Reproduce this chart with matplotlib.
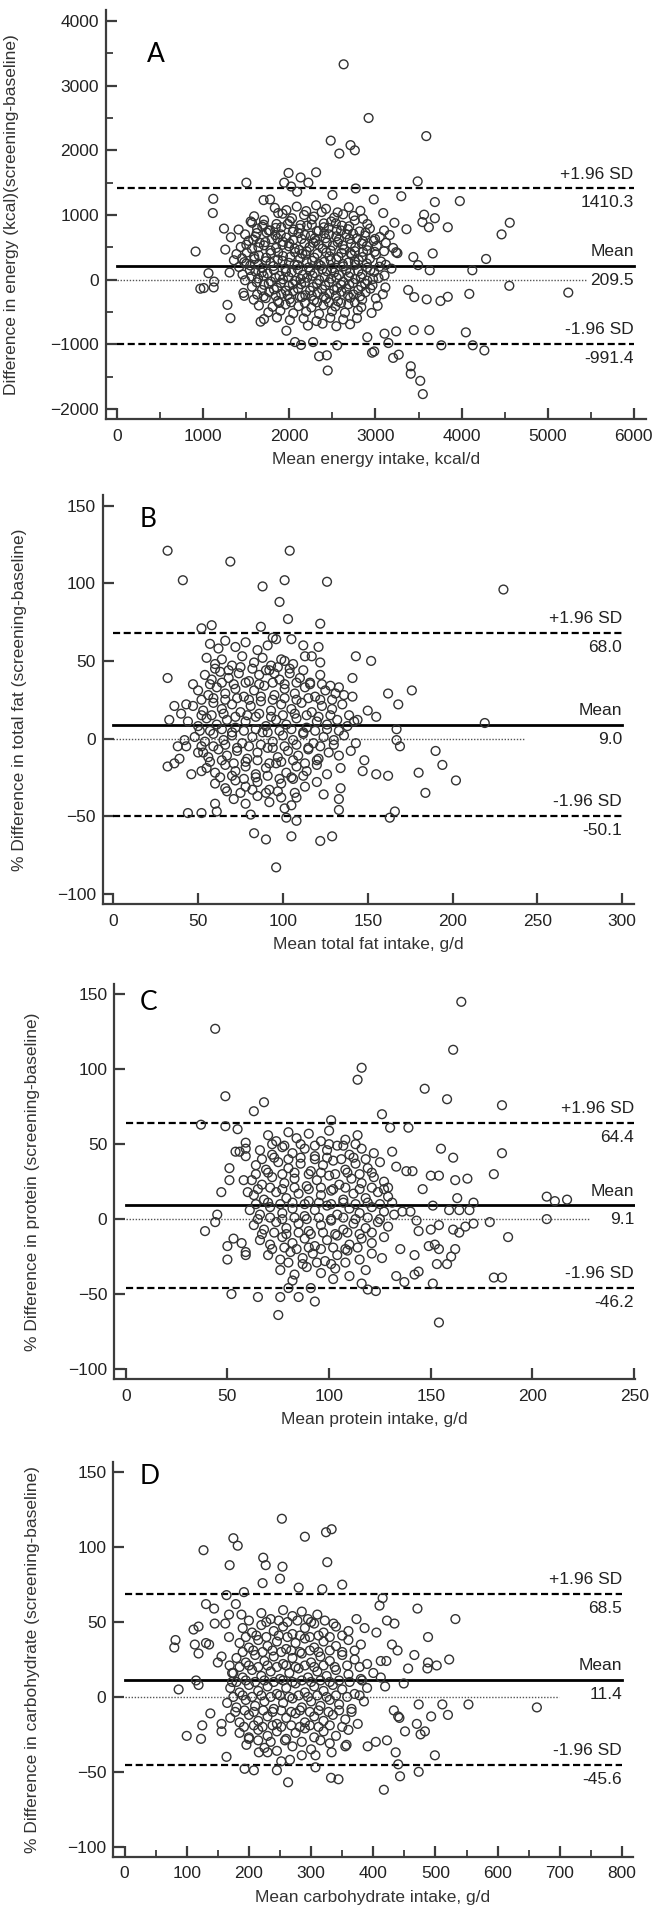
import matplotlib
matplotlib.use("Agg")
import matplotlib.pyplot as plt
from matplotlib.ticker import MultipleLocator

plt.rcParams['font.family'] = ['Liberation Sans', 'DejaVu Sans']

# ---------------- Panel A: energy ----------------
a_xlabel = "Mean energy intake, kcal/d"
a_ylabel = "Difference in energy (kcal)(screening-baseline)"
a_mean, a_upper, a_lower = 209.5, 1410.3, -991.4
a_outer = [(2630,3330),(2920,2500),(3590,2220),(2480,2150),(2710,2080),(2760,2000),(2580,1950),
    (1990,1650),(2310,1660),(2130,1580),(1500,1500),(1940,1500),(2220,1500),(3490,1520),(2020,1440),(2770,1410),
    (1115,1250),(1775,1240),(2090,1360),(2500,1310),(2980,1240),(3300,1290),(3690,1200),(3980,1215),(1700,1230),
    (1110,1030),(1870,1030),(3090,1030),(3565,1005),(4560,880),(4465,700),(3840,810),(3690,950),(3545,890),
    (3620,810),(3360,780),(3220,880),(1240,790),(1410,775),(1550,900),(1320,655),(910,435),(1255,465),
    (4285,320),(4125,145),(3665,405),(3440,350),(3240,425),(3630,145),(3495,225),
    (1060,100),(1005,-130),(1125,-30),(965,-140),(1120,-120),(4555,-95),(5240,-200),(4090,-220),(3840,-265),
    (3755,-330),(3595,-305),(3450,-270),(3380,-160),(1280,-390),(1315,-595),(1475,-250),(1665,-650),(1965,-790),
    (4050,-815),(3445,-780),(3625,-780),(3240,-800),(3105,-835),(2905,-890),
    (2065,-965),(2135,-1010),(2275,-965),(2555,-1015),(3765,-1015),(4130,-1015),(4265,-1095),(3150,-980),
    (2960,-1130),(2985,-1110),(3205,-1210),(3270,-1160),(2345,-1185),(2435,-1170),(2445,-1405),(3410,-1340),
    (3410,-1455),(3520,-1565),(3550,-1770)]
a_core = [(1830,1110),(1965,1075),(2085,1130),(2195,1060),(2310,1150),(2425,1095),(2560,1040),(2690,1120),(2825,1065),
    (1590,980),(1920,1020),(2030,950),(2170,1000),(2285,975),(2375,1045),(2520,960),(2625,1010),(2745,985),(2855,940),
    (1565,880),(1705,920),(1850,860),(2005,905),(2130,845),(2260,930),(2400,870),(2485,900),(2610,835),(2760,915),(2905,860),
    (1625,790),(1685,820),(1775,760),(1905,810),(2050,775),(2205,835),(2340,755),(2455,800),(2550,770),(2695,825),(2815,745),(2935,790),(3100,760),
    (1485,700),(1605,665),(1735,730),(1835,690),(1965,650),(2105,720),(2250,680),(2295,640),(2405,715),(2545,670),(2665,700),(2785,640),(2885,725),(3050,660),(3165,690),
    (1525,600),(1655,570),(1795,625),(1925,585),(2045,615),(2175,560),(2305,600),(2435,575),(2575,620),(2715,555),(2855,595),(2995,630),(3120,570),
    (1435,505),(1565,475),(1705,530),(1845,490),(1995,515),(2115,460),(2235,505),(2385,480),(2505,525),(2635,470),(2765,500),(2905,455),(3015,520),(3205,490),
    (1385,395),(1505,420),(1645,375),(1785,410),(1925,365),(2065,425),(2185,385),(2325,400),(2465,360),(2605,415),(2725,380),(2855,430),(3005,390),(3255,410),
    (1355,300),(1475,270),(1595,320),(1725,285),(1865,310),(1995,260),(2125,330),(2265,290),(2405,275),(2545,315),(2685,265),(2805,300),(2935,325),(3065,280),
    (1415,195),(1545,220),(1685,180),(1815,210),(1955,170),(2095,225),(2225,190),(2365,215),(2495,175),(2625,205),(2765,230),(2905,185),(3045,200),(3185,170),
    (1305,110),(1455,80),(1605,125),(1745,95),(1885,60),(2025,115),(2155,75),(2295,100),(2435,130),(2575,70),(2705,105),(2845,85),(2985,120),(3105,65),
    (1485,-10),(1635,20),(1785,-30),(1925,5),(2065,-20),(2205,30),(2345,-5),(2485,15),(2625,-35),(2765,10),(2905,-15),(3035,25),
    (1565,-110),(1705,-80),(1855,-125),(1995,-95),(2135,-70),(2275,-115),(2415,-90),(2555,-130),(2695,-75),(2835,-105),(2965,-85),(3115,-120),
    (1465,-205),(1625,-230),(1765,-190),(1905,-220),(2045,-175),(2185,-240),(2325,-200),(2465,-215),(2605,-185),(2745,-230),(2885,-195),(3085,-225),
    (1585,-310),(1725,-285),(1865,-330),(2005,-300),(2145,-270),(2285,-320),(2425,-295),(2565,-335),(2705,-280),(2845,-310),(3005,-290),
    (1645,-400),(1805,-420),(1955,-385),(2105,-410),(2255,-430),(2395,-395),(2535,-415),(2685,-380),(2835,-425),(3025,-405),
    (1755,-505),(1895,-480),(2045,-520),(2195,-495),(2345,-530),(2495,-490),(2645,-510),(2795,-475),(2955,-515),
    (1705,-610),(1855,-585),(2005,-625),(2165,-600),(2315,-640),(2475,-590),(2625,-615),(2785,-595),
    (2215,-710),(2385,-680),(2545,-720),(2705,-690)]
a_dense = [(1700,850),(1840,800),(1980,860),(2120,790),(2260,850),(2400,810),(2540,870),(2680,780),
    (1620,720),(1760,760),(1900,700),(2040,740),(2180,690),(2320,750),(2460,700),(2600,760),(2740,710),(2880,680),
    (1580,620),(1720,580),(1860,640),(2000,560),(2140,630),(2280,570),(2420,640),(2560,580),(2700,630),(2840,560),(2980,600),
    (1500,540),(1640,500),(1780,450),(1920,540),(2060,480),(2200,440),(2340,540),(2480,450),(2620,530),(2760,440),(2900,520),(3100,440),
    (1450,330),(1590,360),(1730,340),(1870,420),(2010,350),(2150,400),(2290,340),(2430,420),(2570,350),(2710,410),(2850,350),(2990,430),
    (1500,250),(1640,230),(1780,260),(1920,290),(2060,230),(2200,280),(2340,240),(2480,300),(2620,240),(2760,280),(2900,250),(3120,230),
    (1540,150),(1680,110),(1820,150),(1960,120),(2100,160),(2240,130),(2380,160),(2520,110),(2660,150),(2800,130),(2940,150),
    (1560,50),(1700,60),(1840,30),(1990,40),(2130,10),(2270,60),(2410,40),(2550,30),(2690,50),(2830,40),(2970,10),
    (1620,-40),(1760,-60),(1900,-50),(2040,-70),(2180,-40),(2320,-60),(2460,-40),(2600,-80),(2740,-50),(2880,-60),
    (1680,-160),(1820,-150),(1960,-170),(2100,-140),(2240,-170),(2380,-150),(2520,-160),(2660,-140),(2800,-160),(2940,-140),
    (1700,-260),(1840,-250),(1980,-240),(2120,-260),(2260,-250),(2400,-260),(2540,-250),(2680,-240),(2820,-260),
    (1880,-360),(2020,-350),(2180,-360),(2320,-350),(2460,-350),(2600,-360),(2760,-350)]

# ---------------- Panel B: total fat ----------------
b_xlabel = "Mean total fat intake, g/d"
b_ylabel = "% Difference in total fat (screening-baseline)"
b_mean, b_upper, b_lower = 9.0, 68.0, -50.1
b_outer = [(32,121),(104,121),(69,114),(41,102),(101,102),(126,101),(88,98),(98,88),(230,96),(103,77),
    (122,74),(87,72),(58,73),(52,71),(32,39),(143,53),(152,50),(141,39),(176,31),(162,29),(168,22),(155,14),
    (150,18),(219,10),(33,12),(36,21),(40,16),(43,22),(47,35),(38,-5),(32,-18),(36,-16),(39,-13),(42,-1),
    (43,-5),(46,-23),(52,-21),(53,-9),(44,-48),(52,-48),(60,-42),(61,-47),(81,-49),(83,-61),(90,-65),(105,-63),
    (96,-83),(101,-45),(102,-51),(108,-53),(122,-66),(129,-63),(133,-46),(133,-39),(134,-32),(124,-36),(107,-35),
    (108,-38),(163,-51),(166,-47),(180,-22),(162,-24),(155,-23),(184,-35),(190,-8),(194,-17),(202,-27),(169,-5),
    (167,-1),(167,6),(148,-14),(147,-21),(143,-3),(142,11),(144,12),(136,28),(133,33),(128,34),(141,27),(139,15),
    (122,49),(117,53),(121,59),(112,60),(105,64),(101,50),(95,42),(94,65)]
b_core = [(57,61),(62,58),(66,63),(72,59),(78,62),(85,57),(91,60),(96,64),
    (55,52),(60,48),(64,51),(70,47),(76,53),(83,49),(88,52),(93,47),(99,51),(106,48),(113,53),
    (54,41),(58,38),(63,43),(68,39),(74,42),(80,37),(86,41),(92,44),(98,38),(104,42),(110,39),(116,36),(122,41),
    (50,31),(56,28),(61,33),(66,29),(72,32),(77,27),(83,31),(89,34),(95,28),(101,32),(107,29),(113,33),(119,27),(125,31),(131,29),
    (47,21),(53,18),(59,23),(64,19),(70,22),(75,17),(81,21),(87,24),(93,18),(99,22),(105,19),(111,23),(117,17),(123,21),(129,19),(135,22),
    (44,11),(50,8),(55,13),(61,9),(67,12),(72,7),(78,11),(84,14),(90,8),(96,12),(102,9),(108,13),(114,7),(120,11),(126,9),(132,12),(138,8),
    (48,1),(54,-2),(59,3),(65,-1),(70,2),(76,-3),(82,1),(88,4),(94,-2),(100,2),(106,-1),(112,3),(118,-3),(124,1),(130,-1),(136,2),
    (50,-9),(56,-12),(62,-7),(67,-11),(73,-8),(79,-13),(85,-9),(91,-6),(97,-12),(103,-8),(109,-11),(115,-7),(121,-13),(127,-9),(133,-11),(140,-8),
    (55,-19),(60,-22),(66,-17),(72,-21),(78,-18),(84,-23),(90,-19),(96,-16),(102,-22),(108,-18),(114,-21),(120,-17),(126,-23),(134,-19),
    (60,-29),(66,-32),(72,-27),(78,-31),(85,-28),(92,-33),(99,-29),(106,-26),(113,-31),(120,-28),
    (71,-39),(78,-42),(85,-37),(92,-41),(99,-38),(105,-43)]
b_dense = [(60,45),(68,44),(75,46),(82,45),(90,44),(97,46),(104,45),(112,44),
    (57,35),(64,36),(71,35),(78,36),(86,35),(94,36),(101,35),(108,36),(116,35),(123,35),
    (52,25),(59,26),(66,25),(73,26),(80,25),(87,27),(94,25),(101,26),(108,25),(115,26),(122,25),(129,25),
    (52,15),(58,15),(65,16),(72,14),(79,15),(86,16),(93,14),(100,15),(107,16),(114,15),(121,14),(128,15),
    (51,5),(57,5),(64,6),(70,4),(77,5),(84,6),(91,4),(98,5),(105,6),(112,4),(119,5),(126,6),(133,5),
    (52,-5),(59,-5),(66,-4),(73,-6),(80,-5),(87,-4),(94,-6),(101,-5),(108,-4),(115,-6),(122,-5),(130,-4),
    (57,-15),(64,-14),(71,-16),(78,-15),(85,-14),(92,-16),(99,-15),(106,-14),(113,-16),(120,-14),
    (63,-25),(70,-24),(77,-26),(84,-25),(91,-24),(98,-26),(105,-25),(112,-24),
    (67,-34),(75,-35),(82,-33),(90,-35),(97,-34)]

# ---------------- Panel C: protein ----------------
c_xlabel = "Mean protein intake, g/d"
c_ylabel = "% Difference in protein (screening-baseline)"
c_mean, c_upper, c_lower = 9.1, 64.4, -46.2
c_outer = [(165,145),(44,127),(161,113),(116,101),(114,93),(147,87),(158,80),(49,82),(185,76),(68,78),
    (126,70),(63,72),(37,63),(49,62),(55,60),(101,66),(139,61),(130,61),(185,44),(155,47),(161,41),(181,30),
    (168,27),(162,26),(150,29),(154,29),(146,20),(163,14),(171,11),(207,15),(211,12),(217,13),(207,0),(151,9),
    (169,6),(159,6),(164,6),(179,-2),(171,-3),(167,-5),(164,-9),(161,-7),(188,-12),(150,-7),(154,-4),(144,-8),
    (149,-18),(154,-20),(152,-17),(162,-20),(160,-25),(158,-30),(153,-30),(181,-39),(185,-39),(151,-43),(154,-69),
    (144,-35),(142,-37),(137,-42),(133,-38),(123,-48),(119,-47),(116,-43),(102,-40),(93,-55),(91,-46),(85,-52),
    (76,-52),(65,-52),(52,-50),(75,-64),(80,-46),(82,-41),(50,-27),(50,-18),(39,-8),(44,-2),(45,3),(47,18),
    (51,26),(51,34),(54,45),(56,45),(59,47),(59,42),(59,51),(58,26),(60,18),(59,-22),(59,-24),(57,-16),(53,-13),
    (138,32),(141,32),(133,35),(131,45),(129,21),(136,5),(140,5),(143,-1),(142,-24),(135,-20)]
c_core = [(70,56),(74,52),(80,58),(84,54),(90,57),(96,52),(100,59),(108,53),(114,56),
    (66,46),(72,43),(77,48),(82,44),(88,47),(93,42),(99,46),(104,49),(110,43),(116,47),(122,44),
    (64,36),(69,33),(75,38),(80,34),(86,37),(91,32),(97,36),(102,39),(108,33),(113,37),(119,34),(125,38),
    (62,26),(67,23),(72,28),(78,24),(83,27),(89,22),(94,26),(100,29),(105,23),(111,27),(116,24),(122,28),(127,25),
    (63,16),(68,13),(74,18),(79,14),(85,17),(90,12),(96,16),(101,19),(107,13),(112,17),(118,14),(124,18),(129,15),
    (61,6),(66,3),(71,8),(77,4),(82,7),(88,2),(93,6),(99,9),(104,3),(110,7),(115,4),(121,8),(127,5),(132,3),
    (63,-4),(68,-7),(74,-2),(79,-6),(85,-3),(90,-8),(96,-4),(101,-1),(107,-7),(112,-3),(118,-6),(124,-2),(129,-5),
    (66,-14),(71,-17),(77,-12),(82,-16),(88,-13),(93,-18),(99,-14),(104,-11),(110,-17),(116,-13),(121,-16),(127,-12),
    (70,-24),(76,-27),(81,-22),(87,-26),(92,-23),(98,-28),(104,-24),(109,-21),(115,-27),(121,-23),(126,-26),
    (76,-34),(83,-37),(89,-32),(96,-36),(103,-33),(110,-38),(118,-34)]
c_dense = [(72,50),(78,49),(86,50),(93,49),(100,50),(107,49),(113,50),
    (67,40),(73,41),(80,40),(86,41),(93,40),(99,41),(106,40),(112,41),(118,40),
    (64,30),(70,31),(77,30),(83,31),(90,30),(96,31),(103,30),(109,31),(115,30),(121,31),
    (65,20),(71,21),(77,20),(83,21),(90,20),(96,21),(102,20),(108,21),(115,20),(121,21),(127,20),
    (64,10),(70,11),(76,10),(82,11),(88,10),(95,11),(101,10),(107,11),(113,10),(119,11),(125,10),(131,11),
    (65,0),(71,1),(77,0),(83,1),(89,0),(95,1),(101,0),(107,1),(113,0),(119,1),(125,0),
    (67,-10),(73,-9),(79,-10),(85,-9),(91,-10),(97,-9),(103,-10),(109,-9),(115,-10),(121,-9),
    (72,-20),(78,-19),(84,-20),(90,-19),(96,-20),(102,-19),(108,-20),(114,-19),
    (80,-29),(87,-30),(94,-29),(101,-30),(108,-29)]

# ---------------- Panel D: carbohydrate ----------------
d_xlabel = "Mean carbohydrate intake, g/d"
d_ylabel = "% Difference in carbohydrate (screening-baseline)"
d_mean, d_upper, d_lower = 11.4, 68.5, -45.6
d_outer = [(253,119),(333,112),(324,110),(290,107),(175,106),(182,101),(127,98),(223,93),(227,88),(254,87),
    (326,90),(169,88),(250,79),(222,76),(350,75),(280,73),(192,70),(318,72),(164,68),(131,62),(144,59),(179,62),
    (168,55),(188,55),(410,61),(415,66),(471,59),(532,52),(422,51),(434,49),(373,52),(336,49),(488,40),(386,46),
    (405,43),(430,35),(439,31),(466,28),(522,25),(488,23),(502,21),(487,19),(456,19),(412,24),(421,24),(412,13),
    (419,7),(449,9),(473,-5),(511,-5),(553,-5),(663,-7),(520,-12),(493,-13),(476,-25),(483,-23),(451,-23),(470,-18),
    (442,-14),(440,-13),(433,-9),(422,-29),(404,-30),(391,-33),(499,-39),(436,-37),(440,-45),(443,-53),(473,-50),
    (417,-62),(357,-32),(355,-33),(333,-37),(307,-39),(307,-47),(332,-54),(344,-55),(285,-39),(266,-42),(252,-43),
    (245,-49),(263,-57),(230,-37),(216,-37),(208,-49),(193,-48),(164,-40),(196,-32),(200,-28),(100,-26),(123,-28),
    (125,-19),(138,-11),(156,-18),(156,-23),(87,5),(115,11),(119,8),(119,29),(113,35),(111,45),(119,47),(82,38),
    (80,33),(131,36),(136,35),(145,49),(150,23),(156,27),(162,49),(168,40),(169,21),(173,16),(173,10)]
d_core = [(220,56),(235,52),(255,58),(270,54),(285,57),(295,52),(310,55),
    (190,46),(205,43),(220,48),(240,44),(255,47),(270,42),(290,46),(305,49),(320,43),(340,47),(360,44),
    (185,36),(200,33),(215,38),(230,34),(245,37),(260,32),(275,36),(290,39),(305,33),(320,37),(340,34),(360,38),(380,35),
    (180,26),(195,23),(210,28),(225,24),(240,27),(255,22),(270,26),(285,29),(300,23),(315,27),(330,24),(350,28),(370,25),(390,22),
    (175,16),(190,13),(205,18),(220,14),(235,17),(250,12),(265,16),(280,19),(295,13),(310,17),(325,14),(340,18),(360,15),(380,12),(400,16),
    (170,6),(185,3),(200,8),(215,4),(230,7),(245,2),(260,6),(275,9),(290,3),(305,7),(320,4),(335,8),(350,5),(370,2),(390,6),
    (165,-4),(180,-7),(195,-2),(210,-6),(225,-3),(240,-8),(255,-4),(270,-1),(285,-7),(300,-3),(315,-6),(330,-2),(345,-5),(365,-8),(385,-3),
    (170,-14),(185,-17),(200,-12),(215,-16),(230,-13),(245,-18),(260,-14),(275,-11),(290,-17),(305,-13),(320,-16),(335,-12),(355,-15),(375,-18),
    (185,-24),(200,-27),(215,-22),(230,-26),(245,-23),(260,-28),(275,-24),(290,-21),(305,-27),(320,-23),(340,-26),(360,-22),
    (225,-34),(245,-36),(270,-33),(300,-35),(330,-31)]
d_dense = [(200,51),(228,50),(248,51),(262,50),(278,51),(300,50),(322,51),
    (195,40),(212,41),(228,40),(248,41),(262,40),(282,41),(298,40),(312,41),(330,40),(350,41),
    (190,30),(207,31),(222,30),(238,31),(252,30),(268,31),(282,30),(298,31),(312,30),(330,31),(350,30),(370,31),
    (185,20),(200,21),(215,20),(230,21),(245,20),(260,21),(275,20),(290,21),(305,20),(320,21),(338,20),(358,21),(378,20),
    (180,10),(195,11),(210,10),(225,11),(240,10),(255,11),(270,10),(285,11),(300,10),(315,11),(330,10),(345,11),(362,10),(382,11),
    (175,0),(190,1),(205,0),(220,1),(235,0),(250,1),(265,0),(280,1),(295,0),(310,1),(325,0),(340,1),(358,0),(378,1),
    (178,-10),(193,-9),(208,-10),(223,-9),(238,-10),(252,-9),(268,-10),(282,-9),(298,-10),(312,-9),(328,-10),(345,-9),(365,-10),
    (192,-20),(208,-19),(222,-20),(238,-19),(252,-20),(268,-19),(282,-20),(298,-19),(312,-20),(330,-19),(350,-20),
    (215,-29),(235,-30),(258,-29),(285,-30),(315,-29)]

W, H = 657, 1913
fig = plt.figure(figsize=(W / 100, H / 100), dpi=100)

panels = [
    dict(letter="A", pts=a_core + a_dense + a_outer, mean=a_mean, up=a_upper, lo=a_lower,
         xlabel=a_xlabel, ylabel=a_ylabel, box=(106, 646, 10, 419),
         xlim=(-131, 6143), ylim=(-2155, 4170), xmaj=1000, xmin=500, ymaj=1000, ymin=500,
         xend=6000, dotend=5450, letpos=(0.0926, 0.892), ylx=-0.161),
    dict(letter="B", pts=b_core + b_dense + b_outer, mean=b_mean, up=b_upper, lo=b_lower,
         xlabel=b_xlabel, ylabel=b_ylabel, box=(102.7, 633.7, 495, 904),
         xlim=(-6.25, 306.8), ylim=(-106.6, 156.9), xmaj=50, xmin=None, ymaj=50, ymin=None,
         xend=300, dotend=242, letpos=(0.0859, 0.939), ylx=-0.1426),
    dict(letter="C", pts=c_core + c_dense + c_outer, mean=c_mean, up=c_upper, lo=c_lower,
         xlabel=c_xlabel, ylabel=c_ylabel, box=(114.4, 635, 984.3, 1379),
         xlim=(-5.56, 250.4), ylim=(-106.7, 156.7), xmaj=50, xmin=None, ymaj=50, ymin=None,
         xend=250, dotend=228, letpos=(0.066, 0.953), ylx=-0.143),
    dict(letter="D", pts=d_core + d_dense + d_outer, mean=d_mean, up=d_upper, lo=d_lower,
         xlabel=d_xlabel, ylabel=d_ylabel, box=(113.2, 632.9, 1462.3, 1856.7),
         xlim=(-18.2, 817.4), ylim=(-106.7, 156.7), xmaj=100, xmin=50, ymaj=50, ymin=None,
         xend=800, dotend=698, letpos=(0.070, 0.965), ylx=-0.141),
]

tick_color = "#222222"
spine_color = "#3c3c3c"
fs = 12.5

for p in panels:
    l, r, t, b = p["box"]
    ax = fig.add_axes([l / W, 1 - b / H, (r - l) / W, (b - t) / H])
    ax.set_xlim(*p["xlim"])
    ax.set_ylim(*p["ylim"])
    for s in ("top", "right"):
        ax.spines[s].set_visible(False)
    for s in ("left", "bottom"):
        ax.spines[s].set_color(spine_color)
        ax.spines[s].set_linewidth(1.6)

    xs = [q[0] for q in p["pts"]]
    ys = [q[1] for q in p["pts"]]

    xe = p["xend"]
    ax.plot([0, xe], [p["up"], p["up"]], color="black", lw=1.6, ls=(0, (3.2, 1.6)), zorder=2)
    ax.plot([0, xe], [p["lo"], p["lo"]], color="black", lw=1.6, ls=(0, (3.2, 1.6)), zorder=2)
    ax.plot([0, xe], [p["mean"], p["mean"]], color="black", lw=2.0, zorder=2)
    ax.plot([0, p["dotend"]], [0, 0], color="#555555", lw=1.0, ls=(0, (1, 1.2)), zorder=1)

    ax.scatter(xs, ys, s=40, facecolors="none", edgecolors="#333333", linewidths=1.0, zorder=3)

    def lab(y, txt, above):
        ax.annotate(txt, xy=(xe, y), xytext=(0, 5 if above else -5), textcoords="offset points",
                    ha="right", va="bottom" if above else "top", fontsize=fs, color=tick_color)

    lab(p["up"], "+1.96 SD", True)
    lab(p["up"], "{:.1f}".format(p["up"]), False)
    lab(p["mean"], "Mean", True)
    lab(p["mean"], "{:.1f}".format(p["mean"]), False)
    lab(p["lo"], "-1.96 SD", True)
    lab(p["lo"], "{:.1f}".format(p["lo"]), False)

    ax.xaxis.set_major_locator(MultipleLocator(p["xmaj"]))
    ax.yaxis.set_major_locator(MultipleLocator(p["ymaj"]))
    if p["xmin"]:
        ax.xaxis.set_minor_locator(MultipleLocator(p["xmin"]))
    if p["ymin"]:
        ax.yaxis.set_minor_locator(MultipleLocator(p["ymin"]))
    ax.tick_params(axis="both", which="major", direction="in", length=8, width=1.6,
                   color=spine_color, labelsize=fs, labelcolor=tick_color)
    ax.tick_params(axis="x", which="major", pad=7)
    ax.tick_params(axis="y", which="major", pad=5)
    ax.tick_params(axis="both", which="minor", direction="in", length=5, width=1.3, color=spine_color)

    ax.set_xlabel(p["xlabel"], fontsize=fs, color="#333333", labelpad=6)
    ax.set_ylabel(p["ylabel"], fontsize=fs, color="#333333")
    ax.yaxis.set_label_coords(p["ylx"], 0.5)

    ax.text(p["letpos"][0], p["letpos"][1], p["letter"], transform=ax.transAxes,
            fontsize=19, family=["Lato", "DejaVu Sans"], ha="center", va="center", color="black")

fig.savefig("out.png", dpi=100)
